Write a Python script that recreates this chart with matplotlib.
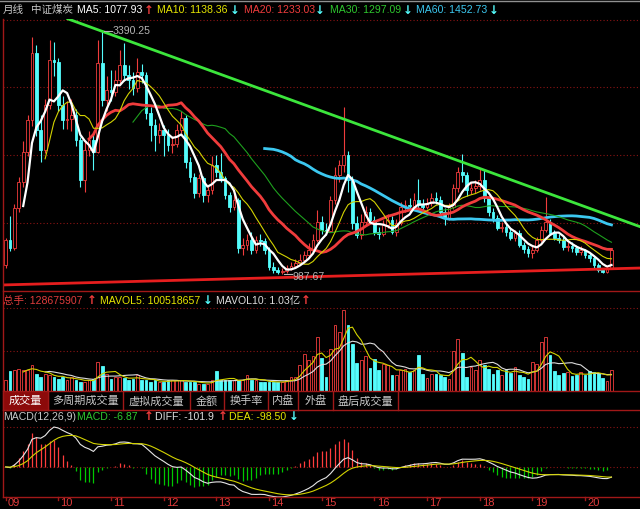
import numpy as np
import pandas as pd
import matplotlib
matplotlib.use('Agg')
import matplotlib.pyplot as plt
from matplotlib.lines import Line2D
from matplotlib.patches import Rectangle
from matplotlib.transforms import blended_transform_factory

# ---- monthly candles of the index, 2009-01 .. 2020-07 ----
months = pd.period_range('2009-01', periods=139, freq='M')

open_ = [1080, 1324, 1245, 1640, 1898, 2194, 2511, 3173, 2412, 2214,
         2659, 3104, 3084, 2659, 2511, 2525, 2560, 2313, 1917, 2214,
         2313, 2194, 3074, 2708, 2807, 2790, 2906, 3054, 2955, 2906,
         2827, 2985, 2955, 2580, 2461, 2362, 2412, 2362, 2263, 2270,
         2412, 2530, 2095, 1947, 1789, 1937, 1769, 1818, 2066, 1996,
         1937, 1769, 1650, 1720, 1245, 1275, 1324, 1225, 1324, 1310,
         1230, 1057, 1027, 1005, 1020, 1047, 1067, 1097, 1126, 1176,
         1225, 1324, 1502, 1423, 1415, 1720, 1967, 2066, 2165, 1917,
         1492, 1374, 1502, 1601, 1522, 1403, 1383, 1472, 1522, 1403,
         1492, 1650, 1670, 1665, 1720, 1670, 1650, 1690, 1739, 1720,
         1601, 1542, 1650, 1838, 1996, 1967, 1818, 1838, 1858, 1917,
         1739, 1601, 1542, 1443, 1450, 1403, 1344, 1393, 1275, 1235,
         1196, 1225, 1324, 1423, 1502, 1393, 1344, 1324, 1255, 1265,
         1245, 1206, 1225, 1176, 1146, 1077, 1027, 1008, 1047]
close = [1324, 1245, 1640, 1898, 2194, 2511, 3173, 2412, 2214, 2659,
         3104, 3084, 2659, 2511, 2525, 2560, 2313, 1917, 2214, 2313,
         2194, 3074, 2708, 2807, 2790, 2906, 3054, 2955, 2906, 2827,
         2985, 2955, 2580, 2461, 2362, 2412, 2362, 2263, 2270, 2412,
         2530, 2095, 1947, 1789, 1937, 1769, 1818, 2066, 1996, 1937,
         1769, 1650, 1720, 1245, 1275, 1324, 1225, 1324, 1310, 1230,
         1057, 1027, 1005, 1020, 1047, 1067, 1097, 1126, 1176, 1225,
         1324, 1502, 1423, 1415, 1720, 1967, 2066, 2165, 1917, 1492,
         1374, 1502, 1601, 1522, 1403, 1383, 1472, 1522, 1403, 1492,
         1650, 1670, 1665, 1720, 1670, 1650, 1690, 1739, 1720, 1601,
         1542, 1650, 1838, 1996, 1967, 1818, 1838, 1858, 1917, 1739,
         1601, 1542, 1443, 1450, 1403, 1344, 1393, 1275, 1235, 1196,
         1225, 1324, 1423, 1502, 1393, 1344, 1324, 1255, 1265, 1245,
         1206, 1225, 1176, 1146, 1077, 1027, 1008, 1047, 1225]
high = [1345, 1560, 1680, 1950, 2300, 2560, 3330, 3250, 2560, 2720,
        3300, 3280, 3120, 2750, 2700, 2720, 2620, 2340, 2290, 2400,
        2380, 3300, 3390.25, 2950, 3000, 3000, 3200, 3270, 3050, 2990,
        3120, 3060, 2990, 2640, 2520, 2480, 2460, 2420, 2350, 2470,
        2600, 2560, 2140, 1990, 1980, 1960, 1870, 2150, 2160, 2180,
        1960, 1800, 1780, 1740, 1340, 1380, 1400, 1360, 1380, 1340,
        1250, 1110, 1060, 1050, 1080, 1110, 1140, 1190, 1220, 1290,
        1380, 1620, 1560, 1490, 1760, 2050, 2120, 2640, 2200, 1960,
        1560, 1580, 1660, 1640, 1560, 1450, 1520, 1580, 1560, 1530,
        1700, 1720, 1740, 1790, 1930, 1730, 1740, 1790, 1800, 1760,
        1640, 1690, 1880, 2050, 2170, 2000, 1900, 1920, 2040, 2030,
        1760, 1640, 1570, 1500, 1480, 1440, 1420, 1420, 1300, 1260,
        1260, 1350, 1460, 1750, 1530, 1420, 1380, 1350, 1300, 1300,
        1270, 1260, 1240, 1200, 1170, 1100, 1050, 1070, 1240]
low = [1050, 1220, 1225, 1600, 1850, 2150, 2450, 2350, 2100, 2180,
       2620, 2950, 2600, 2420, 2420, 2400, 2250, 1850, 1800, 2150,
       2020, 2180, 2650, 2600, 2700, 2750, 2860, 2900, 2820, 2760,
       2790, 2880, 2520, 2300, 2200, 2280, 2150, 2200, 2180, 2240,
       2380, 2040, 1900, 1740, 1750, 1700, 1700, 1780, 1950, 1900,
       1730, 1600, 1620, 1200, 1180, 1230, 1190, 1200, 1260, 1190,
       1030, 1000, 990, 987.67, 1000, 1030, 1050, 1080, 1100, 1150,
       1200, 1300, 1380, 1370, 1400, 1680, 1900, 2000, 1800, 1430,
       1340, 1330, 1460, 1480, 1370, 1330, 1360, 1440, 1380, 1360,
       1470, 1600, 1600, 1640, 1640, 1600, 1630, 1660, 1680, 1570,
       1470, 1520, 1630, 1800, 1900, 1760, 1780, 1790, 1820, 1700,
       1560, 1500, 1420, 1400, 1360, 1320, 1310, 1250, 1200, 1160,
       1150, 1210, 1300, 1400, 1370, 1320, 1290, 1230, 1220, 1210,
       1180, 1180, 1150, 1110, 1050, 1010, 995, 1000, 1040]
# monthly volume, million shares
volume = [66, 124, 129, 139, 132, 129, 160, 108, 87, 108,
          98, 87, 76, 87, 66, 87, 66, 56, 56, 66,
          76, 180, 154, 108, 76, 87, 87, 83, 66, 76,
          98, 66, 66, 56, 66, 56, 56, 66, 66, 66,
          66, 56, 56, 56, 45, 45, 45, 66, 124, 66,
          66, 66, 66, 66, 66, 101, 66, 66, 56, 56,
          56, 56, 56, 56, 66, 87, 87, 160, 228, 191,
          218, 336, 205, 87, 261, 408, 367, 502, 408, 294,
          174, 195, 216, 145, 201, 129, 170, 160, 98, 98,
          129, 137, 118, 131, 222, 108, 83, 108, 108, 98,
          87, 76, 249, 325, 236, 87, 149, 132, 191, 160,
          139, 108, 132, 98, 129, 112, 149, 98, 87, 76,
          180, 170, 305, 336, 222, 124, 98, 112, 118, 90,
          98, 115, 98, 124, 120, 110, 80, 64, 128.68]

# hand-drawn trend lines: (month index, level)
resist_x, resist_y = [14.2, 144.5], [3510, 1456]
support_x, support_y = [-1.3, 144.5], [879, 1047]

# header texts
top_header = [(3, '月线', '#c8c8c8'), (31, '中证煤炭', '#c8c8c8'),
              (77, 'MA5: 1077.93', '#ffffff'), (157, 'MA10: 1138.36', '#e6e600'),
              (244, 'MA20: 1233.03', '#f03c3c'), (330, 'MA30: 1297.09', '#2ec82e'),
              (416, 'MA60: 1452.73', '#3cc8f0')]
top_arrows = [(144, '↑'), (230, '↓'), (315, '↓'), (403, '↓'), (489, '↓')]
vol_header = [(3, '总手: 128675907', '#e03c3c'), (100, 'MAVOL5: 100518657', '#e6e600'),
              (216, 'MAVOL10: 1.03亿', '#dcdcdc')]
vol_arrows = [(87, '↑'), (203, '↓'), (301, '↑')]
macd_header = [(3, 'MACD(12,26,9)', '#c8c8c8'), (77, 'MACD: -6.87', '#2ec82e'),
               (155, 'DIFF: -101.9', '#dcdcdc'), (229, 'DEA: -98.50', '#e6e600')]
macd_arrows = [(144, '↑'), (218, '↑'), (289, '↓')]
tabs = ['成交量', '多周期成交量', '虚拟成交量', '金额', '换手率', '内盘', '外盘', '盘后成交量']
tab_edges = [3, 48, 123, 190, 224, 268, 298, 333, 398]

RED = '#f03c3c'
CYAN = '#54fcfc'
GRID = '#8a1414'
BORDER = '#a01818'

plt.rcParams['font.family'] = ['Liberation Sans', 'Noto Sans CJK SC', 'DejaVu Sans']

W, H = 640, 509
fig = plt.figure(figsize=(W / 100, H / 100), dpi=100, facecolor='black')


def box(x0, y0, x1, y1):
    return [x0 / W, 1 - y1 / H, (x1 - x0) / W, (y1 - y0) / H]


def hline(y, x0=3, x1=640, color=BORDER, lw=1.0):
    fig.add_artist(Line2D([x0 / W, x1 / W], [1 - y / H, 1 - y / H], color=color, lw=lw))


def ptext(px, py, s, color, size=7.6, ha='left', **kw):
    fig.text(px / W, 1 - py / H, s, color=color, fontsize=size, va='center', ha=ha, **kw)


def arrow(px, py, t):
    ptext(px, py, t, RED if t == '↑' else CYAN, size=8.5,
          family=['DejaVu Sans'], fontweight='bold')


ax_p = fig.add_axes(box(3, 19, 640, 291))
ax_v = fig.add_axes(box(3, 291, 640, 391))
ax_m = fig.add_axes(box(3, 410, 640, 497))
for ax in (ax_p, ax_v, ax_m):
    ax.set_facecolor('black')
    ax.set_axis_off()
    ax.set_xlim(-0.6, 144.5)

o = np.array(open_, float)
c = np.array(close, float)
hi_ = np.array(high, float)
lo_ = np.array(low, float)
vol = np.array(volume, float)
x = np.arange(len(c))
up = c >= o
edge = np.where(up, RED, CYAN)
face = np.where(up, 'black', CYAN)


def dotted(ax, f):
    a, b = ax.get_ylim()
    ax.axhline(a + f * (b - a), color=GRID, lw=0.8, ls=(0, (1, 2)), zorder=0)


# ---- price panel ----
ax_p.set_ylim(819.9, 3509.1)
for f in (0.25, 0.5, 0.75, 0.995):
    dotted(ax_p, f)
ax_p.vlines(x, lo_, hi_, colors=edge, lw=0.8, zorder=2)
ax_p.bar(x, np.abs(c - o), bottom=np.minimum(o, c), width=0.62, color=face,
         edgecolor=edge, linewidth=0.6, zorder=3)

s = pd.Series(c)
ax_p.plot(x, s.rolling(60).mean(), color='#3cc8f0', lw=2.0, zorder=4)
ax_p.plot(x, s.rolling(30).mean(), color='#1ea01e', lw=0.8, zorder=4)
ax_p.plot(x, s.rolling(20).mean(), color='#f03c3c', lw=2.0, zorder=4)
ax_p.plot(x, s.rolling(10).mean(), color='#d2d200', lw=0.8, zorder=4)
ax_p.plot(x, s.rolling(5).mean(), color='white', lw=1.6, zorder=5)

ax_p.plot(resist_x, resist_y, color='#3ce63c', lw=2.0, zorder=6)
ax_p.plot(support_x, support_y, color='#e61e1e', lw=2.0, zorder=6)

imax, imin = int(np.argmax(hi_)), int(np.argmin(lo_))
ax_p.plot([imax + 0.3, imax + 2.2], [hi_[imax]] * 2, color='#b4b4b4', lw=0.8, zorder=7)
ax_p.text(imax + 2.3, hi_[imax], f'{hi_[imax]:.2f}', color='#b4b4b4', fontsize=7.6,
          va='center', zorder=7)
ax_p.plot([imin + 0.3, imin + 2.2], [lo_[imin]] * 2, color='#b4b4b4', lw=0.8, zorder=7)
ax_p.text(imin + 2.3, lo_[imin] - 25, f'{lo_[imin]:.2f}', color='#b4b4b4', fontsize=7.6,
          va='center', zorder=7)

# ---- volume panel ----
ax_v.set_ylim(0, 620)
dotted(ax_v, 0.40)
dotted(ax_v, 0.83)
ax_v.bar(x, vol, width=0.62, color=face, edgecolor=edge, linewidth=0.6, zorder=3)
vs = pd.Series(vol)
ax_v.plot(x, vs.rolling(10).mean(), color='#dcdcdc', lw=0.8, zorder=4)
ax_v.plot(x, vs.rolling(5).mean(), color='#d2d200', lw=0.8, zorder=5)

# ---- MACD panel ----
ema12 = s.ewm(span=12, adjust=False).mean()
ema26 = s.ewm(span=26, adjust=False).mean()
diff = ema12 - ema26
dea = diff.ewm(span=9, adjust=False).mean()
macd = 2 * (diff - dea)
lo_m = min(diff.min(), dea.min(), macd.min())
hi_m = max(diff.max(), dea.max(), macd.max())
ax_m.set_ylim(lo_m, hi_m + (hi_m - lo_m) * 17 / 70)
ax_m.axhline(hi_m, color=GRID, lw=0.8, ls=(0, (1, 2)), zorder=0)
ax_m.axhline(0, color=GRID, lw=0.8, ls=(0, (1, 2)), zorder=0)
ax_m.vlines(x, 0, macd, colors=np.where(macd >= 0, '#ff3c3c', '#00c800'), lw=0.9, zorder=2)
ax_m.plot(x, diff, color='#e6e6e6', lw=0.8, zorder=3)
ax_m.plot(x, dea, color='#d2d200', lw=0.8, zorder=4)

# ---- frame lines ----
fig.add_artist(Line2D([0, 1], [1 - 0.5 / H] * 2, color='#909090', lw=1.0))
for y in (291, 391, 410, 497):
    hline(y)
fig.add_artist(Line2D([3 / W, 3 / W], [1 - 19 / H, 1 - 497 / H], color=BORDER, lw=1.0))

# ---- headers ----
for px, t, col in top_header:
    ptext(px, 10, t, col)
for px, t in top_arrows:
    arrow(px, 10, t)
for px, t, col in vol_header:
    ptext(px, 301, t, col)
for px, t in vol_arrows:
    arrow(px, 301, t)
for px, t, col in macd_header:
    ptext(px, 417, t, col)
for px, t in macd_arrows:
    arrow(px, 417, t)

# ---- tab row ----
fig.add_artist(Rectangle((3 / W, 1 - 410 / H), 45 / W, 18 / H, color='#8c0a0a',
                         transform=fig.transFigure))
for k, t in enumerate(tabs):
    mid = (tab_edges[k] + tab_edges[k + 1]) / 2
    ptext(mid, 401, t, 'white' if k == 0 else '#c8c8c8', size=8, ha='center')
for e in tab_edges[1:]:
    fig.add_artist(Line2D([e / W, e / W], [1 - 392 / H, 1 - 410 / H], color=BORDER, lw=1.0))

# ---- year axis ----
tr = blended_transform_factory(ax_m.transData, fig.transFigure)
for i, m in enumerate(months):
    if m.month == 1:
        ax_m.add_artist(Line2D([i, i], [1 - 497 / H, 1 - 500 / H], color=BORDER, lw=1.0,
                               transform=tr, clip_on=False))
        ax_m.text(i + 0.5, 1 - 503.5 / H, f'{m.year % 100:02d}', color='#e03c3c',
                  fontsize=8, va='center', ha='left', transform=tr, clip_on=False)

fig.savefig('out.png', dpi=100, facecolor='black')
